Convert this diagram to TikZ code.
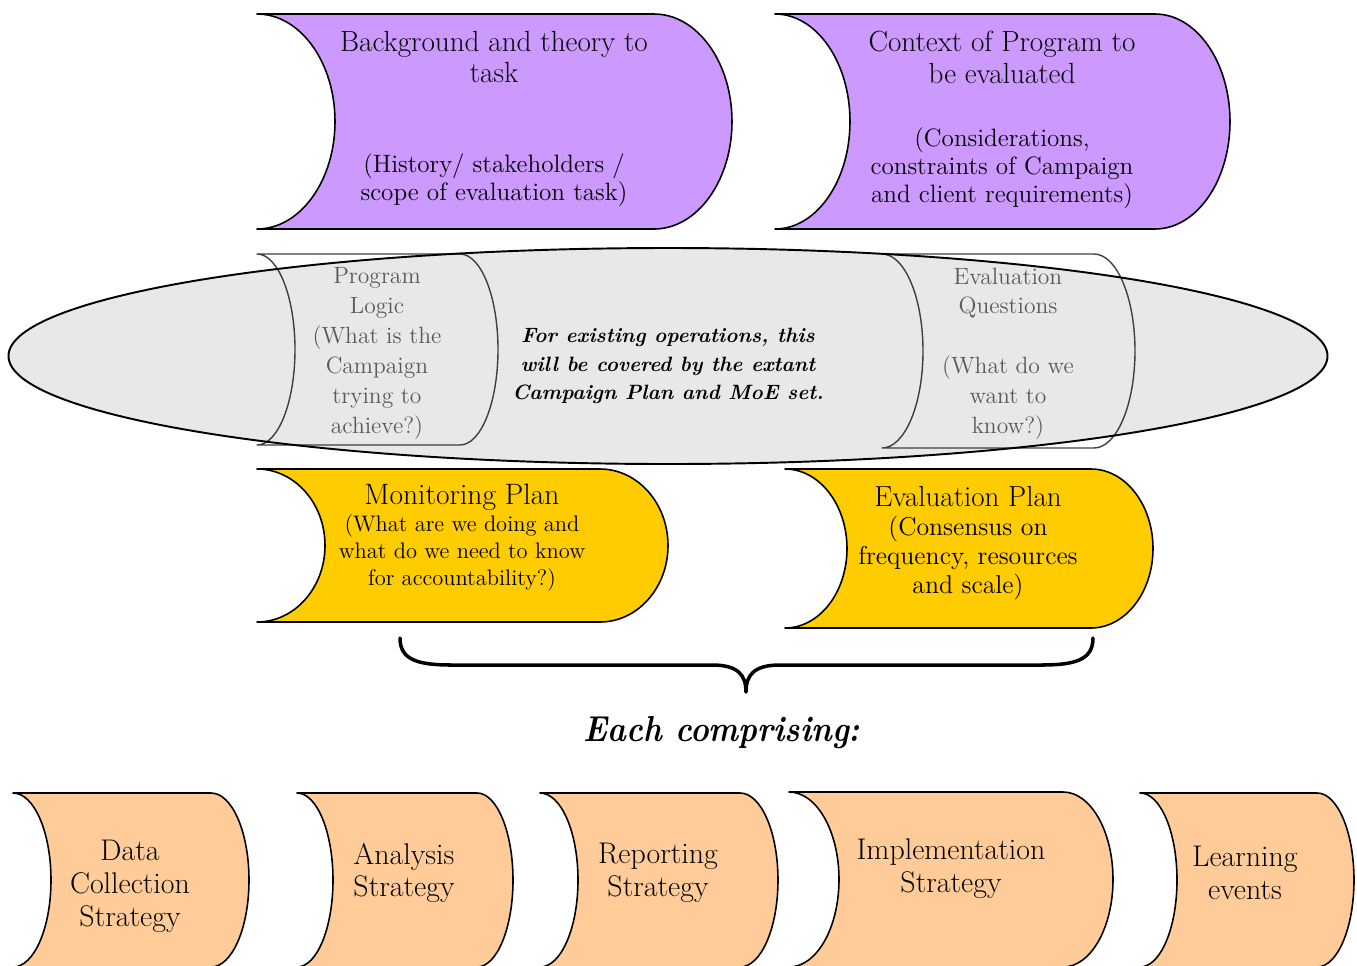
\documentclass[tikz,border=0pt]{standalone}
\usepackage{fontspec}
\definecolor{lilac}{HTML}{CC99FF}
\definecolor{gold}{HTML}{FFCC00}
\definecolor{peach}{HTML}{FFCC99}
\definecolor{ellgray}{HTML}{E8E8E8}
\definecolor{txtgray}{HTML}{5A5A5A}
\newcommand\docshape[6]{%
  \pgfmathsetmacro\shry{(#3-#2)/2}%
  \draw[#6] (#1,-#2) -- (#4,-#2) arc[start angle=90,end angle=-90,x radius=#5,y radius=\shry]
     -- (#1,-#3) arc[start angle=-90,end angle=90,x radius=#5,y radius=\shry] -- cycle;}
\tikzset{
  shp/.style={draw=black,line width=0.9pt,line join=round},
  inshp/.style={draw=black!75,line width=0.8pt,line join=round},
  big/.style={align=center,font=\fontsize{16.6}{18.1}\selectfont,inner sep=0pt},
  sub/.style={align=center,font=\fontsize{14.3}{16}\selectfont,inner sep=0pt},
  greytxt/.style={align=center,font=\fontsize{13.4}{17}\selectfont,text=txtgray,inner sep=0pt},
  note/.style={align=center,font=\fontsize{11.8}{16.4}\selectfont\bfseries\itshape,inner sep=0pt},
  bottxt/.style={align=center,font=\fontsize{17}{18.7}\selectfont,inner sep=0pt},
}
\begin{document}
\begin{tikzpicture}[x=0.02cm,y=0.02cm]
\useasboundingbox (0,0) rectangle (1357,-965);
% top purple shapes
\docshape{257}{14}{229}{654}{78}{shp,fill=lilac}
\docshape{775}{14}{229}{1155}{75}{shp,fill=lilac}
\node[big] (bg) at (494,-57) {Background and theory to\\task};
\node[sub] (bgsub) at (494,-180) {(History/ stakeholders /\\scope of evaluation task)};
\node[big] (ctx) at (1002,-57) {Context of Program to\\be evaluated};
\node[sub] (ctxsub) at (1002,-168) {(Considerations,\\constraints of Campaign\\and client requirements)};
% ellipse
\fill[ellgray] (668,-356) ellipse[x radius=659.5,y radius=108];
\docshape{257}{254}{445}{460}{38}{inshp}
\docshape{882}{254}{448}{1094}{41}{inshp}
\draw[line width=1.1pt] (668,-356) ellipse[x radius=659.5,y radius=108];
\node[greytxt] (pl) at (377,-353.5) {Program\\Logic\\(What is the\\Campaign\\trying to\\achieve?)};
\node[greytxt] (eq) at (1008,-353.5) {Evaluation\\Questions\\[17pt](What do we\\want to\\know?)};
\node[note] (nt) at (668,-366) {For existing operations, this\\will be covered by the extant\\Campaign Plan and MoE set.};
% yellow shapes
\docshape{257}{469}{622}{600}{68}{shp,fill=gold}
\docshape{785}{469}{628}{1091}{62}{shp,fill=gold}
\node[align=center,font=\fontsize{16.8}{18}\selectfont,inner sep=0pt] (mon) at (462,-497) {Monitoring Plan};
\node[align=center,font=\fontsize{12.8}{15.3}\selectfont,inner sep=0pt] (monsub) at (462,-553) {(What are we doing and\\what do we need to know\\for accountability?)};
\node[align=center,font=\fontsize{16.5}{18}\selectfont,inner sep=0pt] (evp) at (968,-497) {Evaluation Plan};
\node[align=center,font=\fontsize{14.7}{16.4}\selectfont,inner sep=0pt] (evpsub) at (968,-558) {(Consensus on\\frequency, resources\\and scale)};
% brace
\draw[line width=2pt,line cap=round,line join=round]
  (400,-638) .. controls (400,-660) and (418,-665) .. (452,-665)
  -- (712,-665) .. controls (738,-665) and (746,-675) .. (746,-692)
  .. controls (746,-675) and (754,-665) .. (780,-665)
  -- (1041,-665) .. controls (1075,-665) and (1093,-660) .. (1093,-638);
\node[font=\fontsize{20.5}{24}\selectfont\bfseries\itshape,inner sep=0pt] (each) at (722,-733) {\scalebox{0.88}[1]{Each comprising:}};
% bottom peach shapes
\docshape{13}{793}{967}{211}{38}{shp,fill=peach}
\docshape{297}{793}{967}{477}{36}{shp,fill=peach}
\docshape{540}{793}{967}{740}{38}{shp,fill=peach}
\docshape{789}{792}{967}{1063}{50}{shp,fill=peach}
\docshape{1140}{793}{967}{1317}{37}{shp,fill=peach}
\node[bottxt] (dc) at (130,-886) {Data\\Collection\\Strategy};
\node[bottxt] (an) at (404,-873) {Analysis\\Strategy};
\node[bottxt] (rep) at (658,-873) {Reporting\\Strategy};
\node[bottxt] (imp) at (951,-869) {Implementation\\Strategy};
\node[bottxt] (lrn) at (1245,-873) {Learning\\events};
\end{tikzpicture}
\end{document}
